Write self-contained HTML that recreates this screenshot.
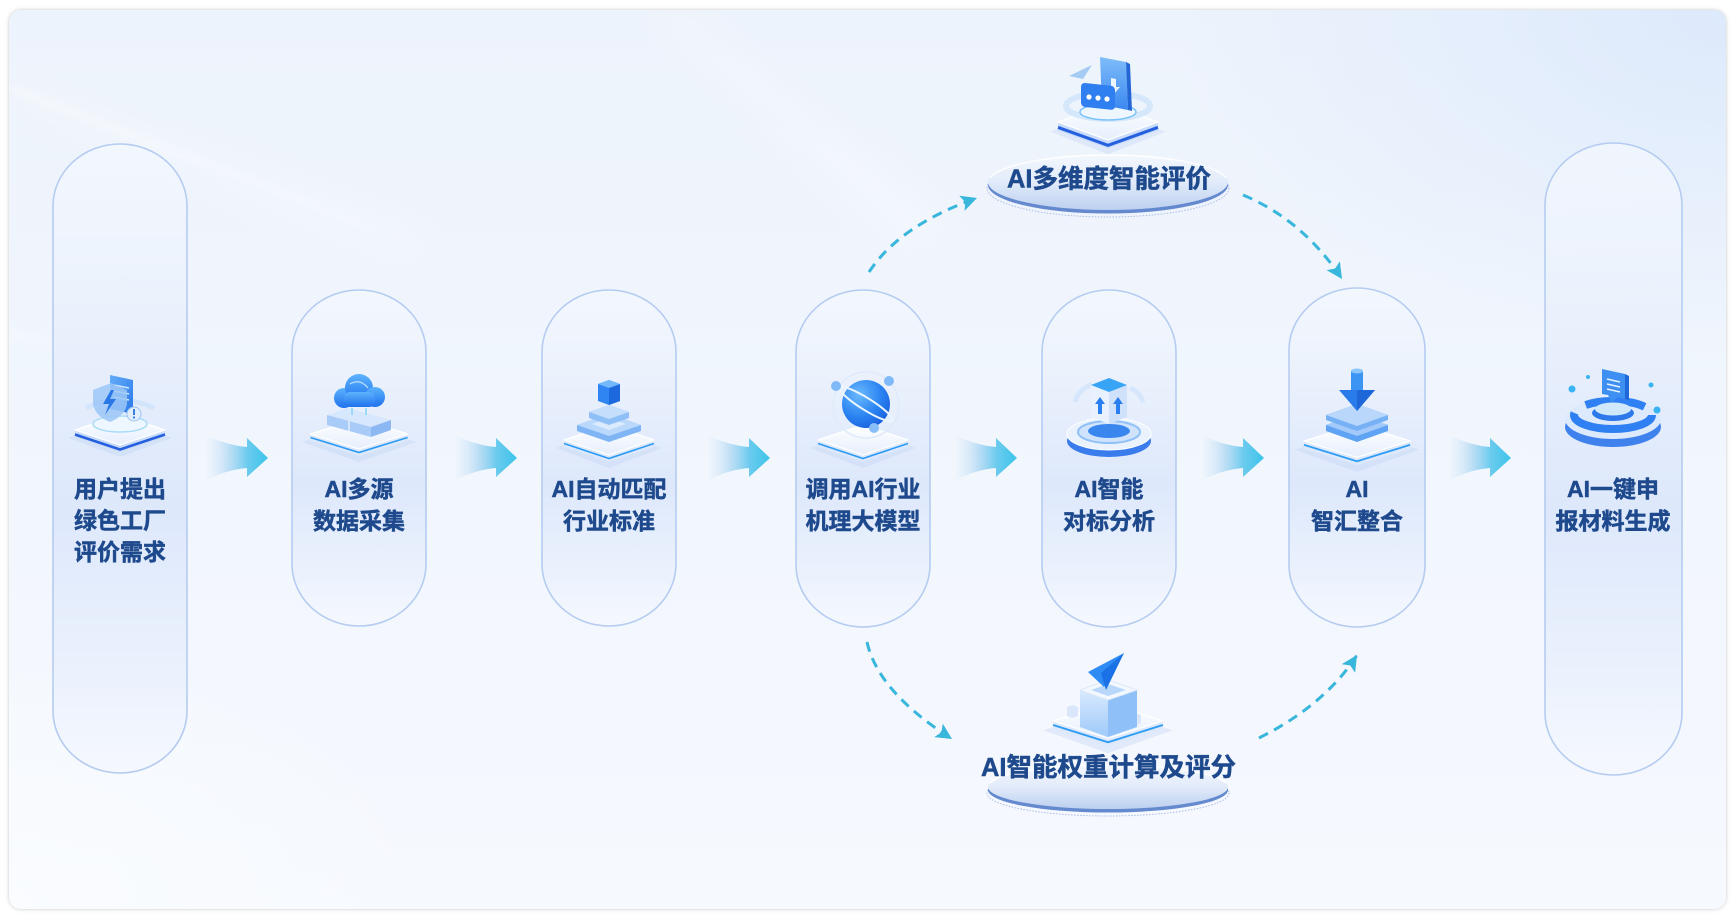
<!DOCTYPE html>
<html>
<head>
<meta charset="utf-8">
<style>
  html,body{margin:0;padding:0;background:#ffffff;}
  body{width:1736px;height:916px;position:relative;overflow:hidden;}
  .card{position:absolute;left:9px;top:10px;width:1717px;height:899px;border-radius:12px;
    box-shadow:0 0 3px rgba(0,0,0,0.18),0 0 8px rgba(0,0,0,0.06);
    background:
      radial-gradient(ellipse 760px 480px at 100% 0%, rgba(218,232,251,0.85), rgba(218,232,251,0) 72%),
      radial-gradient(ellipse 600px 400px at 0% 100%, rgba(250,252,255,0.9), rgba(250,252,255,0) 70%),
      linear-gradient(180deg,#edf3fc 0%,#f1f6fd 45%,#f6f9fe 100%);
    overflow:hidden;}
  svg{position:absolute;left:0;top:0;}
  .t{font-family:"Liberation Sans","Noto Sans CJK SC","WenQuanYi Zen Hei",sans-serif;font-weight:700;fill:#1e4a8d;stroke:#1e4a8d;stroke-width:0.5;}
</style>
</head>
<body>
<div class="card"></div>
<svg width="1736" height="916" viewBox="0 0 1736 916" xmlns="http://www.w3.org/2000/svg">
  <defs>
    <clipPath id="cardClip"><rect x="9" y="10" width="1717" height="899" rx="12"/></clipPath>
    <filter id="blur4" x="-20%" y="-20%" width="140%" height="140%"><feGaussianBlur stdDeviation="4"/></filter>
    <filter id="blur18" x="-30%" y="-30%" width="160%" height="160%"><feGaussianBlur stdDeviation="18"/></filter>
    <linearGradient id="streak" x1="0" y1="0" x2="1" y2="0">
      <stop offset="0" stop-color="#ffffff" stop-opacity="0.9"/>
      <stop offset="0.5" stop-color="#ffffff" stop-opacity="0.35"/>
      <stop offset="1" stop-color="#ffffff" stop-opacity="0"/>
    </linearGradient>
    <linearGradient id="pillGrad" x1="0" y1="0" x2="0" y2="1">
      <stop offset="0" stop-color="#f4f8fe" stop-opacity="0.7"/>
      <stop offset="0.3" stop-color="#e9f0fc"/>
      <stop offset="0.58" stop-color="#dde8fb"/>
      <stop offset="0.82" stop-color="#eaf1fd"/>
      <stop offset="1" stop-color="#f5f8fe"/>
    </linearGradient>
    <linearGradient id="arrowGrad" x1="0" y1="0" x2="1" y2="0">
      <stop offset="0" stop-color="#d9e9f9" stop-opacity="0.15"/>
      <stop offset="0.35" stop-color="#a9d5f2" stop-opacity="0.7"/>
      <stop offset="0.66" stop-color="#6ccbee"/>
      <stop offset="1" stop-color="#3cc4ea"/>
    </linearGradient>
    <linearGradient id="plTop" x1="0" y1="0" x2="0" y2="1">
      <stop offset="0" stop-color="#ffffff"/>
      <stop offset="1" stop-color="#e6effd"/>
    </linearGradient>
    <linearGradient id="discGradT" x1="0" y1="0" x2="0" y2="1">
      <stop offset="0" stop-color="#f4f8fe"/>
      <stop offset="0.5" stop-color="#e2ebfa"/>
      <stop offset="1" stop-color="#bcd0f0"/>
    </linearGradient>
    <linearGradient id="blueDoc" x1="0" y1="0" x2="1" y2="1">
      <stop offset="0" stop-color="#63acf8"/>
      <stop offset="1" stop-color="#2a78ea"/>
    </linearGradient>
    <linearGradient id="cloudGrad" x1="0" y1="0" x2="0" y2="1">
      <stop offset="0" stop-color="#5db3fd"/>
      <stop offset="1" stop-color="#1f72ee"/>
    </linearGradient>
    <radialGradient id="sphere" cx="0.35" cy="0.3" r="0.75">
      <stop offset="0" stop-color="#6ab9fd"/>
      <stop offset="0.6" stop-color="#2c85f2"/>
      <stop offset="1" stop-color="#1a62df"/>
    </radialGradient>
    <linearGradient id="boxL" x1="0" y1="0" x2="0" y2="1">
      <stop offset="0" stop-color="#d9eafe"/>
      <stop offset="1" stop-color="#9fcaf9"/>
    </linearGradient>
    <linearGradient id="phone" x1="0" y1="0" x2="0" y2="1">
      <stop offset="0" stop-color="#7fbdf9"/>
      <stop offset="1" stop-color="#3a88f0"/>
    </linearGradient>
    <g id="plat">
      <polygon points="-53,8 0,-10 53,8 0,28" fill="#bdd0f3" opacity="0.35"/>
      <polygon points="-45,0 0,15 45,0 45,7 0,22 -45,7" fill="#dce8fc"/>
      <polyline points="-45,3.5 0,18.5 45,3.5" fill="none" stroke="#2d9bf4" stroke-width="1.6"/>
      <polygon points="-45,0 0,-15 45,0 0,15" fill="url(#plTop)" stroke="#ffffff" stroke-width="1.2" stroke-linejoin="round"/>
    </g>
    <g id="plat2">
      <polygon points="-52,8 0,-10 52,8 0,27" fill="#bdd0f3" opacity="0.35"/>
      <polygon points="-45,0 0,15 45,0 45,7 0,22 -45,7" fill="#c9dcfb"/>
      <polyline points="-45,4.5 0,19.5 45,4.5" fill="none" stroke="#2560de" stroke-width="2.6"/>
      <polygon points="-45,0 0,-15 45,0 0,15" fill="url(#plTop)" stroke="#ffffff" stroke-width="1.2" stroke-linejoin="round"/>
    </g>
    <path id="bigArrow" d="M0,-22 C14,-16 27,-12 40,-11 L40,-20 L61,0 L40,19 L40,10 C27,11 13,15 0,22 Z" fill="url(#arrowGrad)"/>
    <marker id="ah" markerUnits="userSpaceOnUse" markerWidth="20" markerHeight="20" refX="16" refY="8" orient="auto">
      <path d="M0,0 L16,8 L0,16 L3.5,8 Z" fill="#38b6db"/>
    </marker>
  </defs>

  <!-- background decorations -->
  <g clip-path="url(#cardClip)">
    <path d="M9,88 L480,268" stroke="url(#streak)" stroke-width="4" filter="url(#blur4)" opacity="0.8"/>
    <path d="M9,88 L420,250" stroke="#ffffff" stroke-width="18" filter="url(#blur18)" opacity="0.35"/>
    <path d="M9,334 L190,368" stroke="url(#streak)" stroke-width="3" filter="url(#blur4)" opacity="0.7"/>
    <path d="M660,10 Q790,110 930,240" stroke="#ffffff" stroke-width="40" fill="none" filter="url(#blur18)" opacity="0.25"/>
  </g>

  <!-- pills -->
  <g stroke="#b5ccf1" stroke-width="1.6" fill="url(#pillGrad)">
    <rect x="53" y="144" width="134" height="629" rx="67" ry="62"/>
    <rect x="292" y="290" width="134" height="336" rx="67" ry="62"/>
    <rect x="542" y="290" width="134" height="336" rx="67" ry="62"/>
    <rect x="796" y="290" width="134" height="337" rx="67" ry="62"/>
    <rect x="1042" y="290" width="134" height="337" rx="67" ry="62"/>
    <rect x="1289" y="288" width="136" height="339" rx="68" ry="62"/>
    <rect x="1545" y="143" width="137" height="632" rx="68.5" ry="62"/>
  </g>

  <!-- thick arrows -->
  <use href="#bigArrow" transform="translate(207,458)"/>
  <use href="#bigArrow" transform="translate(456,458)"/>
  <use href="#bigArrow" transform="translate(709,458)"/>
  <use href="#bigArrow" transform="translate(956,458)"/>
  <use href="#bigArrow" transform="translate(1203,458)"/>
  <use href="#bigArrow" transform="translate(1450,458)"/>

  <!-- dashed connectors -->
  <g fill="none" stroke="#38b6db" stroke-width="3" stroke-dasharray="10 7" marker-end="url(#ah)">
    <path d="M869,272 Q900,225 977,198"/>
    <path d="M1243,195 Q1303,220 1342,279"/>
    <path d="M867,642 Q878,692 952,739"/>
    <path d="M1259,738 Q1325,705 1357,655"/>
  </g>

  <!-- label discs -->
  <g>
    <ellipse cx="1108" cy="188" rx="121" ry="29" fill="none" stroke="#aabde6" stroke-width="1" stroke-dasharray="1.5 1.5"/>
    <ellipse cx="1108" cy="185" rx="120" ry="28.5" fill="#6489cf"/>
    <ellipse cx="1108" cy="182" rx="120" ry="28" fill="url(#discGradT)"/>
    <path d="M990,178 A120,28 0 0 1 1226,178" fill="none" stroke="#ffffff" stroke-width="1.5" opacity="0.9"/>
  </g>
  <g>
    <ellipse cx="1108" cy="793" rx="121" ry="23" fill="none" stroke="#aabde6" stroke-width="1" stroke-dasharray="1.5 1.5"/>
    <ellipse cx="1108" cy="790" rx="120" ry="22.5" fill="#6489cf"/>
    <ellipse cx="1108" cy="787" rx="120" ry="22" fill="url(#discGradT)"/>
    <path d="M990,783 A120,22 0 0 1 1226,783" fill="none" stroke="#ffffff" stroke-width="1.5" opacity="0.9"/>
  </g>

  <!-- Icon 1 -->
  <g>
    <use href="#plat2" transform="translate(120,430)"/>
    <path d="M86,408 Q120,392 154,408" fill="none" stroke="#d2e5fb" stroke-width="5"/>
    <ellipse cx="120" cy="424" rx="27" ry="8" fill="#eef6ff" stroke="#a9dcf8" stroke-width="1.5"/>
    <polygon points="110,375 133,380 133,414 110,409" fill="url(#blueDoc)"/>
    <g stroke="#cfe6ff" stroke-width="1.6">
      <line x1="114" y1="385" x2="129" y2="388"/>
      <line x1="114" y1="391" x2="129" y2="394"/>
      <line x1="114" y1="397" x2="129" y2="400"/>
    </g>
    <path d="M93,390 L111,383 L127,390 L127,404 Q125,416 110,422 Q95,416 93,404 Z" fill="#9cc7f7" opacity="0.85"/>
    <path d="M111,390 L103,404 L109,404 L105,415 L116,399 L110,399 L114,390 Z" fill="#2a78e8"/>
    <circle cx="134" cy="414" r="7" fill="#e1eefd" stroke="#9cc3f3" stroke-width="1"/>
    <rect x="133" y="409" width="2" height="6" fill="#3b7fe0"/>
    <rect x="133" y="416.5" width="2" height="2" fill="#3b7fe0"/>
  </g>

  <!-- Icon 2 -->
  <g>
    <use href="#plat" transform="translate(359,434) scale(1.08,1)"/>
    <polygon points="327,415 347,408 391,420 371,427" fill="#d7e7fd"/>
    <polygon points="327,415 371,427 371,437 327,425" fill="#a8cbf7"/>
    <polygon points="371,427 391,420 391,430 371,437" fill="#8bb8f3"/>
    <line x1="349" y1="421" x2="349" y2="431" stroke="#ffffff" stroke-width="1"/>
    <g fill="url(#cloudGrad)">
      <circle cx="344" cy="398" r="10"/>
      <circle cx="359" cy="388" r="14"/>
      <circle cx="375" cy="397" r="10"/>
      <rect x="344" y="392" width="31" height="15" rx="6"/>
    </g>
    <path d="M350,384 Q360,378 368,388" fill="none" stroke="#bfe0ff" stroke-width="1.2"/>
    <path d="M352,408 L352,415 M366,408 L366,415" stroke="#6fd0f5" stroke-width="1.2"/>
  </g>

  <!-- Icon 3 -->
  <g>
    <use href="#plat" transform="translate(609,440)"/>
    <polygon points="577,425 609,414 641,425 641,431 609,442 577,431" fill="#7fb4f5"/>
    <polygon points="577,425 609,414 641,425 609,436" fill="#b9d8fb"/>
    <polygon points="592,424 609,418 626,424 609,430" fill="#e3effd" opacity="0.8"/>
    <polygon points="589,412 609,405 629,412 629,418 609,425 589,418" fill="#8fbff7"/>
    <polygon points="589,412 609,405 629,412 609,419" fill="#c4defc"/>
    <polygon points="598,384 609,380 620,384 620,401 609,405 598,401" fill="#2f86f2"/>
    <polygon points="609,388 620,384 620,401 609,405" fill="#1c69de"/>
    <polygon points="598,384 609,380 620,384 609,388" fill="#72b8fb"/>
  </g>

  <!-- Icon 4 -->
  <g>
    <use href="#plat" transform="translate(863,440)"/>
    <circle cx="866" cy="405" r="33" fill="none" stroke="#dfeafb" stroke-width="1.5"/>
    <circle cx="866" cy="404" r="24" fill="url(#sphere)"/>
    <ellipse cx="866" cy="404" rx="31" ry="6" transform="rotate(32 866 404)" fill="none" stroke="#eaf5ff" stroke-width="2"/>
    <circle cx="836" cy="386" r="5" fill="#80b9f8"/>
    <circle cx="889" cy="381" r="5" fill="#80b9f8"/>
    <circle cx="874" cy="428" r="5" fill="#88bff9"/>
  </g>

  <!-- Icon 5 -->
  <g>
    <ellipse cx="1109" cy="441" rx="42" ry="16" fill="#3a7cec"/>
    <ellipse cx="1109" cy="434" rx="42" ry="16" fill="#eaf2fe" stroke="#ffffff" stroke-width="1"/>
    <ellipse cx="1109" cy="432" rx="31" ry="11" fill="#cfe3fd" stroke="#8fc0f6" stroke-width="2"/>
    <ellipse cx="1109" cy="431" rx="21" ry="7" fill="#3a86ef"/>
    <path d="M1075,402 Q1078,390 1092,384" fill="none" stroke="#d6e6fb" stroke-width="5"/>
    <path d="M1143,402 Q1140,392 1130,388" fill="none" stroke="#d6e6fb" stroke-width="5"/>
    <polygon points="1091,385 1109,392 1109,424 1091,417" fill="#e8f1fd"/>
    <polygon points="1109,392 1127,385 1127,417 1109,424" fill="#d0e2fb"/>
    <polygon points="1091,385 1109,378 1127,385 1109,392" fill="#37a4f6"/>
    <polygon points="1100,397 1105,404 1102,404 1102,414 1098,414 1098,404 1095,404" fill="#2a7ff0"/>
    <polygon points="1118,397 1123,404 1120,404 1120,414 1116,414 1116,404 1113,404" fill="#2a7ff0"/>
  </g>

  <!-- Icon 6 -->
  <g>
    <use href="#plat" transform="translate(1357,441) scale(1.18,1.1)"/>
    <polygon points="1326,425 1357,414 1388,425 1388,431 1357,442 1326,431" fill="#5ea3f4"/>
    <polygon points="1326,425 1357,414 1388,425 1357,436" fill="#a2c9f9"/>
    <polygon points="1326,415 1357,404 1388,415 1388,420 1357,431 1326,420" fill="#76b1f6"/>
    <polygon points="1326,415 1357,404 1388,415 1357,426" fill="#b8d7fb"/>
    <rect x="1351" y="371" width="12" height="22" fill="#3d95f3"/>
    <ellipse cx="1357" cy="371" rx="6" ry="2.5" fill="#8cc6fb"/>
    <polygon points="1339,390 1375,390 1357,411" fill="#2a7bea"/>
    <polygon points="1357,390 1375,390 1357,411" fill="#1e67d8"/>
  </g>

  <!-- Icon 7 -->
  <g>
    <ellipse cx="1613" cy="427" rx="48" ry="20" fill="#3f82ee"/>
    <ellipse cx="1613" cy="419" rx="48" ry="20" fill="#dde9fd"/>
    <ellipse cx="1613" cy="415" rx="39" ry="14" fill="none" stroke="#2f80f2" stroke-width="8" stroke-dasharray="90 14 60 12"/>
    <ellipse cx="1613" cy="413" rx="21" ry="8" fill="#2d78ea"/>
    <ellipse cx="1613" cy="409" rx="18" ry="6.5" fill="#cfe8fb"/>
    <polygon points="1602,369 1625,374 1625,399 1617,397 1612,403 1608,395 1602,394" fill="#3d8ff2"/>
    <polygon points="1625,374 1629,376 1629,400 1625,399" fill="#1f68d9"/>
    <g stroke="#e6f2ff" stroke-width="1.6">
      <line x1="1607" y1="379" x2="1620" y2="382"/>
      <line x1="1607" y1="384" x2="1620" y2="387"/>
      <line x1="1607" y1="389" x2="1620" y2="392"/>
    </g>
    <circle cx="1572" cy="389" r="3.5" fill="#39b4f3"/>
    <circle cx="1588" cy="377" r="2" fill="#39b4f3"/>
    <circle cx="1651" cy="385" r="2.5" fill="#39b4f3"/>
    <circle cx="1657" cy="410" r="3.5" fill="#39b4f3"/>
  </g>

  <!-- Top icon -->
  <g>
    <use href="#plat2" transform="translate(1108,122) scale(1.11,1.2)"/>
    <ellipse cx="1108" cy="106" rx="42" ry="13" fill="none" stroke="#d2e6fb" stroke-width="6" opacity="0.9"/>
    <ellipse cx="1108" cy="112" rx="28" ry="8" fill="#eef7ff" stroke="#7cc4f7" stroke-width="1.5"/>
    <polygon points="1100,57 1126,62 1128,110 1102,105" fill="url(#phone)"/>
    <polygon points="1126,62 1130,64 1132,111 1128,110" fill="#2466d6"/>
    <polygon points="1111,78 1116,79 1116,87 1120,87 1113,95 1107,86 1111,86" fill="#ffffff" opacity="0.9"/>
    <rect x="1081" y="84" width="34" height="24" rx="4" fill="#2f7ff0" transform="skewY(6) translate(0,-115)"/>
    <circle cx="1089" cy="97" r="2.6" fill="#ffffff"/>
    <circle cx="1098" cy="98" r="2.6" fill="#ffffff"/>
    <circle cx="1107" cy="99" r="2.6" fill="#ffffff"/>
    <polygon points="1069,76 1092,65 1083,79" fill="#a5cbf5"/>
  </g>

  <!-- Bottom icon -->
  <g>
    <use href="#plat" transform="translate(1108,721) scale(1.22,1.15)"/>
    <polygon points="1067,707 1072,705 1078,707 1078,716 1072,718 1067,716" fill="#dae7fa"/>
    <polygon points="1131,715 1136,713 1141,715 1141,723 1136,725 1131,723" fill="#dae7fa"/>
    <polygon points="1080,690 1108,700 1108,737 1080,727" fill="url(#boxL)"/>
    <polygon points="1108,700 1137,690 1137,727 1108,737" fill="#8fc1f8"/>
    <polygon points="1080,690 1108,680 1137,690 1108,700" fill="#f4f8ff" stroke="#dfe9f8" stroke-width="1"/>
    <polygon points="1091,690 1108,684 1126,690 1108,696" fill="#b9d7fb"/>
    <polygon points="1088,672 1124,653 1104,687" fill="#2f8cf4"/>
    <polygon points="1101,673 1124,653 1106,690" fill="#1a72e6"/>
  </g>

  <!-- Text -->
  <g class="t" font-size="23" text-anchor="middle">
    <text x="120" y="497">用户提出</text>
    <text x="120" y="528.5">绿色工厂</text>
    <text x="120" y="560">评价需求</text>

    <text x="359" y="497">AI多源</text>
    <text x="359" y="529">数据采集</text>

    <text x="609" y="497">AI自动匹配</text>
    <text x="609" y="529">行业标准</text>

    <text x="863" y="497">调用AI行业</text>
    <text x="863" y="529">机理大模型</text>

    <text x="1109" y="497">AI智能</text>
    <text x="1109" y="529">对标分析</text>

    <text x="1357" y="497">AI</text>
    <text x="1357" y="529">智汇整合</text>

    <text x="1613" y="497">AI一键申</text>
    <text x="1613" y="529">报材料生成</text>
  </g>
  <text class="t" x="1109" y="187.5" font-size="25.5" text-anchor="middle">AI多维度智能评价</text>
  <text class="t" x="1108.5" y="776" font-size="25.5" text-anchor="middle">AI智能权重计算及评分</text>
</svg>
</body>
</html>
